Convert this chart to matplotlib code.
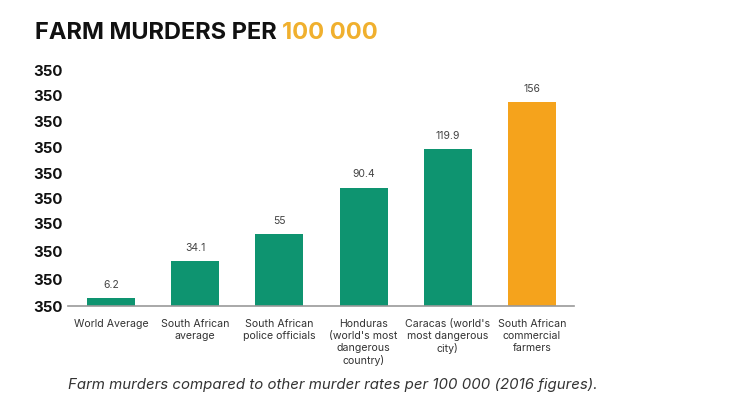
import matplotlib
matplotlib.use("Agg")
import matplotlib.pyplot as plt

plt.rcParams['font.family'] = ['Inter', 'DejaVu Sans']

# data
categories = ["World Average", "South African\naverage", "South African\npolice officials",
              "Honduras\n(world's most\ndangerous\ncountry)", "Caracas (world's\nmost dangerous\ncity)",
              "South African\ncommercial\nfarmers"]
values = [6.2, 34.1, 55, 90.4, 119.9, 156]
value_labels = ["6.2", "34.1", "55", "90.4", "119.9", "156"]
# the y labels in the source all read "350", placed unevenly
ytick_pos = [0, 19.9, 42.0, 62.7, 81.8, 100.9, 120.8, 140.7, 160.6, 179.7]
ytick_labels = ["350"] * 10

green = "#0e9470"
orange = "#f5a31c"
colors = [green] * 5 + [orange]

fig = plt.figure(figsize=(7.39, 4.15), dpi=100)
ax = fig.add_axes([68 / 739, 1 - 306 / 415, (574 - 68) / 739, (306 - 60) / 415])

x = range(len(values))
bars = ax.bar(x, values, width=0.57, color=colors, zorder=2)
for b, lab in zip(bars, value_labels):
    ax.annotate(lab, (b.get_x() + b.get_width() / 2, b.get_height()), xytext=(0, 6),
                textcoords="offset points", ha="center", va="bottom", fontsize=7.5, color="#444444")

ax.set_xlim(-0.51, 5.5)
ax.set_ylim(0, 188)
ax.set_xticks(list(x))
ax.set_xticklabels(categories, fontsize=7.6, color="#333333", linespacing=1.25)
ax.set_yticks(ytick_pos)
ax.set_yticklabels(ytick_labels, fontsize=10.8, fontweight="bold", color="#111111")
ax.tick_params(axis="both", length=0)
ax.tick_params(axis="x", pad=9)
ax.tick_params(axis="y", pad=4)
for s in ["top", "right", "left"]:
    ax.spines[s].set_visible(False)
ax.spines["bottom"].set_color("#999999")
ax.spines["bottom"].set_linewidth(1.2)

t1 = fig.text(35 / 739, 1 - 33 / 415, "FARM MURDERS PER ", fontsize=17, fontweight="bold",
              color="#111111", va="center", ha="left")
ax.annotate("100 000", xy=(1, 0), xycoords=t1, fontsize=17, fontweight="bold",
            color="#f0b02e", va="bottom", ha="left", annotation_clip=False)

fig.text(68 / 739, 1 - 385 / 415, "Farm murders compared to other murder rates per 100 000 (2016 figures).",
         fontsize=10.8, style="italic", color="#333333", va="center", ha="left")

fig.savefig("out.png", dpi=100)
